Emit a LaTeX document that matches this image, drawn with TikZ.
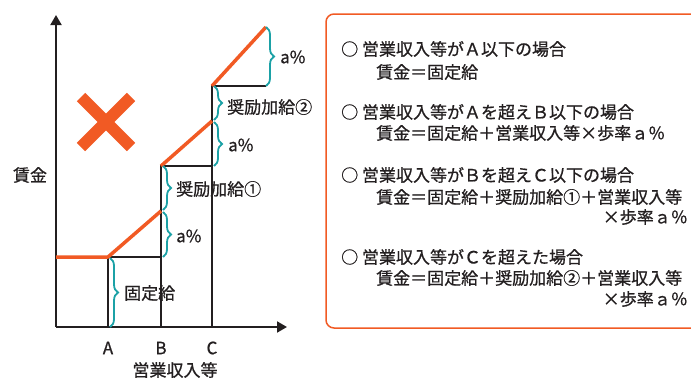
\documentclass[tikz,border=0pt]{standalone}
\usepackage{fontspec}
\setmainfont{Noto Sans CJK JP}[FakeBold=0.8]
\usetikzlibrary{arrows.meta}
\usetikzlibrary{decorations.pathreplacing}
\definecolor{payorange}{HTML}{F15A24}
\definecolor{bracketteal}{HTML}{1BA1A6}
\definecolor{inkgray}{HTML}{231F20}

\begin{document}
\begin{tikzpicture}[x=1pt,y=-1pt]

\tikzstyle{axis}=[draw=inkgray, line width=2pt, -{Triangle[length=10pt,width=11pt]}]
\tikzstyle{rule}=[draw=inkgray, line width=2pt]
\tikzstyle{pay}=[draw=payorange, line width=3.5pt, line join=round]
\tikzstyle{bracket}=[draw=bracketteal, line width=1.8pt, decorate, decoration={brace, amplitude=8pt}]
\tikzstyle{lbl}=[text=inkgray, font=\fontsize{17pt}{20pt}\selectfont, inner sep=0pt]
\tikzstyle{box}=[draw=payorange, line width=1.5pt, rounded corners=8pt]

\useasboundingbox (0,0) rectangle (691,380);

% axes
\coordinate (O) at (56,327);
\coordinate (yTop) at (56,15);
\coordinate (xEnd) at (287,327);
\draw[axis] (O) to (yTop);
\draw[axis] (O) to (xEnd);

\node[lbl] at (30,175)   (wage) {賃金};
\node[lbl] at (108,348)  (labA) {A};
\node[lbl] at (161,348)  (labB) {B};
\node[lbl] at (212,348)  (labC) {C};
\node[lbl] at (175,370)  (sales) {営業収入等};

% steps
\coordinate (A0) at (108,327);
\coordinate (A1) at (108,257);
\coordinate (B0) at (161,327);
\coordinate (B1) at (161,257);
\coordinate (B2) at (161,211);
\coordinate (B3) at (161,166);
\coordinate (C0) at (212,327);
\coordinate (C1) at (212,166);
\coordinate (C2) at (212,121);
\coordinate (C3) at (212,86);
\coordinate (D1) at (266,86);
\coordinate (D3) at (266,27);
\coordinate (Y1) at (56,257);

\draw[rule] (A0) to (A1) to (B1);
\draw[rule] (B0) to (B3) to (C1);
\draw[rule] (C0) to (C3) to (D1);

\draw[pay] (Y1) -- (A1) -- (B2);
\draw[pay] (B3) to (C2);
\draw[pay] (C3) to (D3);

% brackets
\draw[bracket] (110,258) to (110,327);
\draw[bracket] (163,212) to (163,257);
\draw[bracket] (163,166) to (163,210);
\draw[bracket] (214,122) to (214,166);
\draw[bracket] (214,86) to (214,120);
\draw[bracket] (266,27) to (266,86);

\node[lbl, anchor=west] at (124,293)  (fixed) {固定給};
\node[lbl, anchor=west] at (176,236)  (rateB) {a\%};
\node[lbl, anchor=west] at (176,189)  (bonus1) {奨励加給①};
\node[lbl, anchor=west] at (228,145)  (rateC) {a\%};
\node[lbl, anchor=west] at (227,107)  (bonus2) {奨励加給②};
\node[lbl, anchor=west] at (280,57)   (rateD) {a\%};

% cross
\draw[payorange, line width=12pt] (81,97) to (131,147);
\draw[payorange, line width=12pt] (131,97) to (81,147);

% cases
\draw[box] (691,14) -- (326,14) -- (326,328) -- (691,328);

\node[lbl, anchor=west] at (341,49)   (case1) {○ 営業収入等がＡ以下の場合};
\node[lbl, anchor=west] at (376,72)   (pay1) {賃金＝固定給};
\node[lbl, anchor=west] at (341,112)  (case2) {○ 営業収入等がＡを超えＢ以下の場合};
\node[lbl, anchor=west] at (376,133)  (pay2) {賃金＝固定給＋営業収入等×歩率ａ％};
\node[lbl, anchor=west] at (341,175)  (case3) {○ 営業収入等がＢを超えＣ以下の場合};
\node[lbl, anchor=west] at (376,197)  (pay3) {賃金＝固定給＋奨励加給①＋営業収入等};
\node[lbl, anchor=east] at (688,217)  (pay3b) {×歩率ａ％};
\node[lbl, anchor=west] at (341,257)  (case4) {○ 営業収入等がＣを超えた場合};
\node[lbl, anchor=west] at (376,278)  (pay4) {賃金＝固定給＋奨励加給②＋営業収入等};
\node[lbl, anchor=east] at (688,299)  (pay4b) {×歩率ａ％};

\end{tikzpicture}
\end{document}
